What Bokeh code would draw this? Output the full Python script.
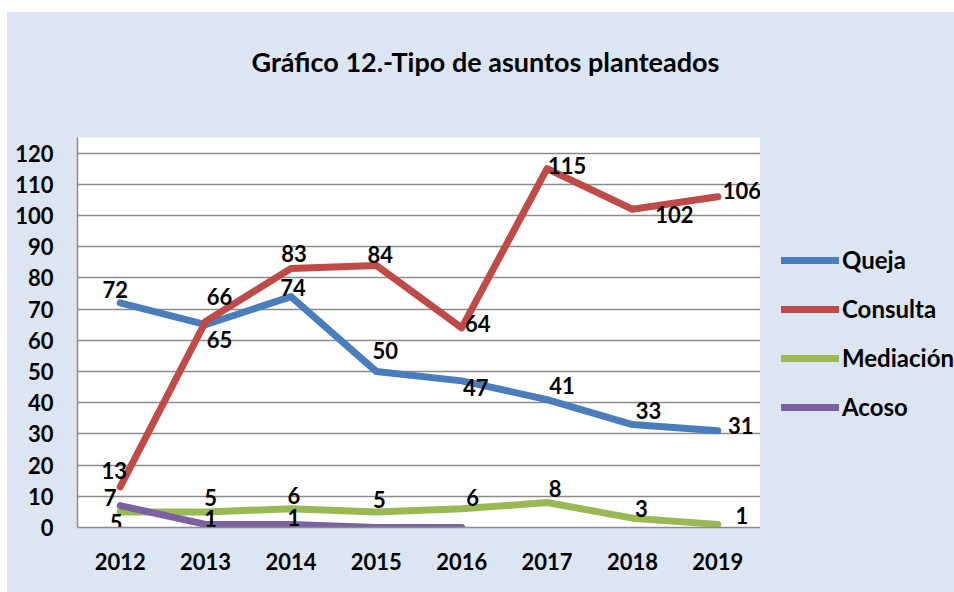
from bokeh.plotting import figure
from bokeh.models import (ColumnDataSource, Range1d, FactorRange, Legend, LegendItem,
                          Spacer, FixedTicker)
from bokeh.layouts import column, row
from bokeh.core.properties import value
from bokeh.embed import file_html
from bokeh.resources import INLINE

# ---------------- data ----------------
years = ["2012", "2013", "2014", "2015", "2016", "2017", "2018", "2019"]
queja = [72, 65, 74, 50, 47, 41, 33, 31]
consulta = [13, 66, 83, 84, 64, 115, 102, 106]
mediacion = [5, 5, 6, 5, 6, 8, 3, 1]
acoso = [7, 1, 1, 0, 0]          # 2012-2016
acoso_years = years[:5]
y_ticks = list(range(0, 121, 10))
title_text = "Gráfico 12.-Tipo de asuntos planteados"
names = ["Queja", "Consulta", "Mediación", "Acoso"]

# ---------------- styles ----------------
colors = ["#4A7EBB", "#BE4B48", "#98B954", "#7D60A0"]
BG = "#DCE6F2"
FONT = "Lato"
# label offsets (screen px, +y = down); None = label hidden
offsets = {
    "Queja":     [(-5, -13), (14, 15), (2, -9), (9, -21), (14, 7), (15, -14), (16, -14), (23, -5)],
    "Consulta":  [(-6, -16), (14, -25), (3, -15), (4, -11), (16, -4), (20, -3), (42, 5), (24, -6)],
    "Mediación": [(-4, 11), (5, -14), (3, -13), (3, -12), (11, -11), (8, -14), (9, -10), (24, -9)],
    "Acoso":     [(-10, -8), (5, -6), (3, -7), None, None],
}

# ---------------- header (title) ----------------
header = figure(width=947, height=110, output_backend="svg", toolbar_location=None,
                x_range=Range1d(0, 1), y_range=Range1d(0, 1),
                min_border_left=9, min_border_right=0, min_border_top=0, min_border_bottom=0,
                background_fill_color=BG, border_fill_color=BG, outline_line_color=None)
header.axis.visible = False
header.grid.visible = False
header.title.text = title_text
header.title.align = "center"
header.title.vertical_align = "middle"
header.title.text_font = FONT
header.title.text_font_style = "bold"
header.title.text_font_size = "27px"
header.title.text_color = "black"
header.title.standoff = 63

# ---------------- main plot ----------------
p = figure(width=753, height=470,
           x_range=FactorRange(*years, range_padding=0),
           y_range=Range1d(0, 125),
           output_backend="svg", toolbar_location=None,
           min_border_left=70, min_border_right=0,
           min_border_top=15, min_border_bottom=65,
           background_fill_color="white", border_fill_color=BG,
           outline_line_color=None)

grid_col = "#8C8C8C"
p.ygrid.ticker = FixedTicker(ticks=y_ticks)
p.ygrid.grid_line_color = grid_col
p.ygrid.grid_line_width = 1.5
p.xgrid.grid_line_color = None

p.yaxis.ticker = FixedTicker(ticks=y_ticks)
for ax in (p.xaxis[0], p.yaxis[0]):
    ax.axis_line_color = grid_col
    ax.axis_line_width = 1.5
    ax.major_tick_line_color = None
    ax.minor_tick_line_color = None
    ax.major_tick_out = 0
    ax.major_tick_in = 0
    ax.major_label_text_font = FONT
    ax.major_label_text_font_style = "bold"
    ax.major_label_text_font_size = "22px"
    ax.major_label_text_color = "black"
p.yaxis.major_label_standoff = 24
p.xaxis.major_label_standoff = 25

series = [("Queja", years, queja), ("Consulta", years, consulta),
          ("Mediación", years, mediacion), ("Acoso", acoso_years, acoso)]

for (name, xs, ys), col in zip(series, colors):
    p.line(xs, ys, line_color=col, line_width=7, line_cap="round", line_join="round")

for (name, xs, ys) in series:
    lx, ly, lt, ox, oy = [], [], [], [], []
    for xv, yv, off in zip(xs, ys, offsets[name]):
        if off is None:
            continue
        lx.append(xv); ly.append(yv); lt.append(str(yv)); ox.append(off[0]); oy.append(off[1])
    src = ColumnDataSource(dict(x=lx, y=ly, t=lt, ox=ox, oy=oy))
    p.text(x="x", y="y", text="t", x_offset="ox", y_offset="oy", source=src,
           text_font=value(FONT), text_font_style="bold", text_font_size="22px",
           text_color="black", text_align="center", text_baseline="middle")

# ---------------- legend panel (frame aligned with the main plot's frame) ----------------
legfig = figure(width=194, height=470, output_backend="svg", toolbar_location=None,
                x_range=Range1d(0, 1), y_range=Range1d(0, 1),
                min_border_left=0, min_border_right=0, min_border_top=0, min_border_bottom=0,
                background_fill_color=BG, border_fill_color=BG, outline_line_color=None)
legfig.axis.visible = False
legfig.grid.visible = False
nan = float("nan")
swatches = [legfig.line(x=[nan], y=[nan], line_color=c, line_width=7, line_cap="round")
            for c in colors]
legend = Legend(items=[LegendItem(label=n, renderers=[r]) for n, r in zip(names, swatches)],
                location=(21, 106), orientation="vertical",
                glyph_width=58, glyph_height=20, label_height=20, spacing=20,
                label_standoff=3, padding=0, margin=0,
                border_line_color=None, background_fill_alpha=0,
                label_text_font=FONT, label_text_font_style="bold",
                label_text_font_size="24px", label_text_color="black")
legfig.add_layout(legend)

inner = column(header, row(p, legfig, spacing=0), spacing=0,
               styles={"background-color": BG})
layout = column(Spacer(width=954, height=12),
                row(Spacer(width=7, height=580), inner, spacing=0), spacing=0)
open("out.html", "w").write(file_html(layout, INLINE))
